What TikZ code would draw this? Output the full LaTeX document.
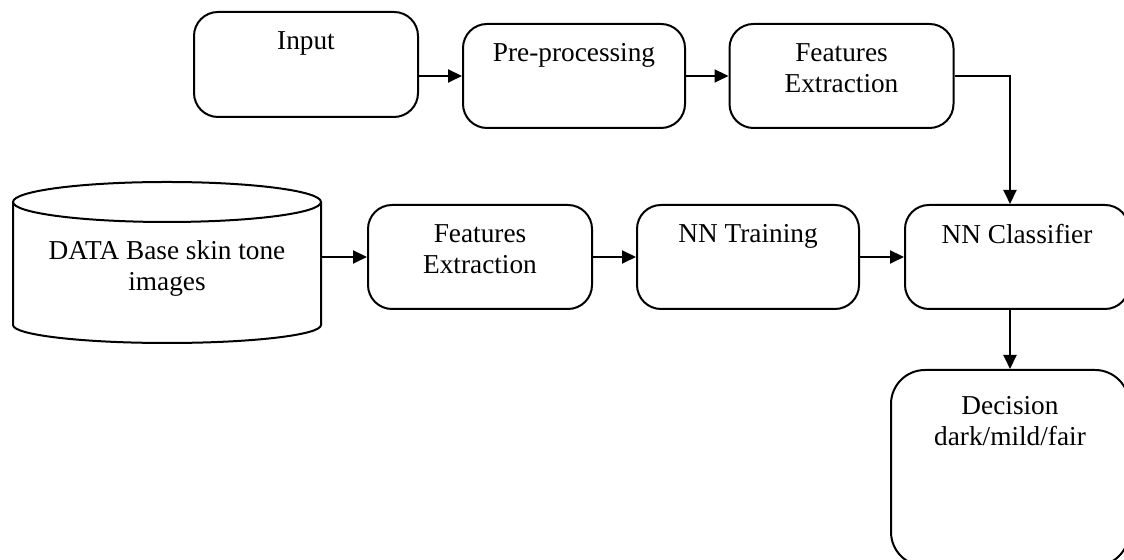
\documentclass[tikz,border=0pt]{standalone}
\usepackage{fontspec}
\setmainfont{Liberation Serif}
\usetikzlibrary{arrows.meta}

\tikzset{
	stage/.style={draw, line width=1pt, rounded corners=12pt, minimum width=112pt, minimum height=52pt, inner sep=0pt},
	caption/.style={anchor=north, yshift=-10pt, align=center, inner sep=0pt, font=\fontsize{13.65}{15.5}\selectfont},
	flow/.style={line width=1pt, -{Triangle[length=7pt,width=6.5pt]}}
}

\begin{document}
\begin{tikzpicture}[x=0.5pt,y=0.5pt]
			\clip (0,0) rectangle (1124,560);
			% top row
			\node[stage, minimum height=52.5pt, label={[caption]north:Input}] (input) at (306,495.5) {};
			\node[stage, minimum width=111pt, label={[caption]north:Pre-processing}] (prep) at (574,484) {};
			\node[stage, label={[caption]north:Features\\Extraction}] (feat) at (841.5,484) {};
			% data base cylinder
			\draw[line width=1pt] (167,358) ellipse [x radius=77pt, y radius=10pt];
			\draw[line width=1pt] (13,358) -- (13,235) arc [start angle=180, end angle=360, x radius=77pt, y radius=9pt] -- (321,358);
			\node[caption] (db) at (167,340) {DATA Base skin tone\\images};
			\coordinate (dbout) at (321,303);
			% middle row
			\node[stage, label={[caption]north:Features\\Extraction}] (dbfeat) at (480,303) {};
			\node[stage, minimum width=111pt, label={[caption]north:NN Training}] (train) at (748,303) {};
			\node[stage, label={[caption]north:NN Classifier}] (classify) at (1017,303) {};
			\node[stage, minimum width=119pt, minimum height=98pt, rounded corners=17pt, label={[caption, yshift=-3.5pt]north:Decision\\dark/mild/fair}] (decide) at (1010,92) {};
			% connectors
			\draw[flow] (input.east |- prep.west) -- (prep.west);
			\draw[flow] (prep) -- (feat);
			\draw[flow] (feat.east) -| (decide.north |- classify.north);
			\draw[flow] (dbout) -- (dbfeat);
			\draw[flow] (dbfeat) -- (train);
			\draw[flow] (train) -- (classify);
			\draw[flow] (decide.north |- classify.south) -- (decide.north);
		\end{tikzpicture}
\end{document}
